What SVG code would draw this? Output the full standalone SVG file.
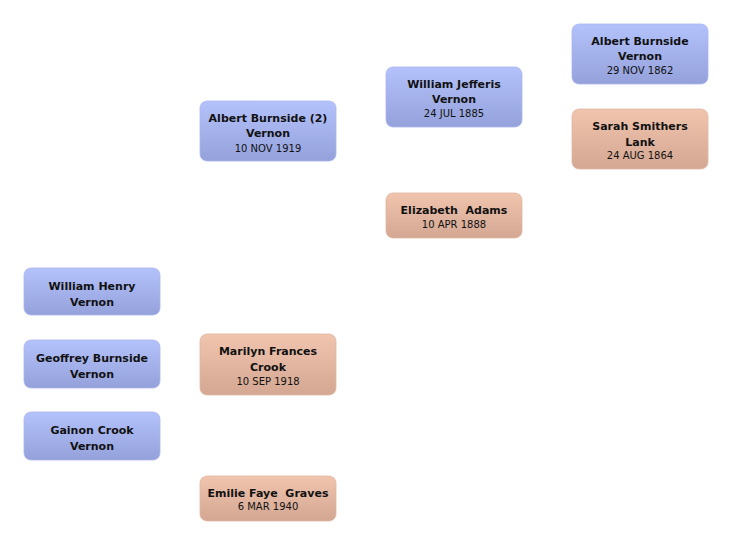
<svg xmlns="http://www.w3.org/2000/svg" width="732" height="545" viewBox="0 0 732 545">
<defs>
<linearGradient id="gb" x1="0" y1="0" x2="0" y2="1">
<stop offset="0" stop-color="#b4c2fc"/>
<stop offset="1" stop-color="#94a1da"/>
</linearGradient>
<linearGradient id="gp" x1="0" y1="0" x2="0" y2="1">
<stop offset="0" stop-color="#f1c4ae"/>
<stop offset="1" stop-color="#d3a792"/>
</linearGradient>
</defs>
<style>
.m rect{fill:url(#gb);stroke:#a9b5ee;stroke-width:0.8}
.f rect{fill:url(#gp);stroke:#e0b6a2;stroke-width:0.8}
text{font-family:"DejaVu Sans",Verdana,sans-serif;fill:#111;text-anchor:middle}
.n{font-size:11px;font-weight:bold}
.d{font-size:10px}
</style>
<rect width="732" height="545" fill="#fff"/>
<g id="connectors"></g>
<g id="albert-burnside-vernon" class="m">
<rect x="572" y="24" width="136" height="60" rx="7"/>
<text class="n" x="640" y="45">Albert Burnside</text>
<text class="n" x="640" y="60">Vernon</text>
<text class="d" x="640" y="74">29 NOV 1862</text>
</g>
<g id="sarah-smithers-lank" class="f">
<rect x="572" y="109" width="136" height="60" rx="7"/>
<text class="n" x="640" y="130">Sarah Smithers</text>
<text class="n" x="640" y="145.5">Lank</text>
<text class="d" x="640" y="159">24 AUG 1864</text>
</g>
<g id="william-jefferis-vernon" class="m">
<rect x="386" y="67" width="136" height="60" rx="7"/>
<text class="n" x="454" y="88">William Jefferis</text>
<text class="n" x="454" y="103">Vernon</text>
<text class="d" x="454" y="117">24 JUL 1885</text>
</g>
<g id="elizabeth-adams" class="f">
<rect x="386" y="193" width="136" height="45" rx="7"/>
<text class="n" x="454" y="213.5" xml:space="preserve">Elizabeth  Adams</text>
<text class="d" x="454" y="228">10 APR 1888</text>
</g>
<g id="albert-burnside-2-vernon" class="m">
<rect x="200" y="101" width="136" height="60" rx="7"/>
<text class="n" x="268" y="122">Albert Burnside (2)</text>
<text class="n" x="268" y="137">Vernon</text>
<text class="d" x="268" y="151.5">10 NOV 1919</text>
</g>
<g id="marilyn-frances-crook" class="f">
<rect x="200" y="334" width="136" height="61" rx="7"/>
<text class="n" x="268" y="355">Marilyn Frances</text>
<text class="n" x="268" y="370.5">Crook</text>
<text class="d" x="268" y="384.5">10 SEP 1918</text>
</g>
<g id="emilie-faye-graves" class="f">
<rect x="200" y="476" width="136" height="45" rx="7"/>
<text class="n" x="268" y="497" xml:space="preserve">Emilie Faye  Graves</text>
<text class="d" x="268" y="510">6 MAR 1940</text>
</g>
<g id="william-henry-vernon" class="m">
<rect x="24" y="268" width="136" height="47" rx="7"/>
<text class="n" x="92" y="290">William Henry</text>
<text class="n" x="92" y="306">Vernon</text>
</g>
<g id="geoffrey-burnside-vernon" class="m">
<rect x="24" y="340" width="136" height="48" rx="7"/>
<text class="n" x="92" y="362">Geoffrey Burnside</text>
<text class="n" x="92" y="378">Vernon</text>
</g>
<g id="gainon-crook-vernon" class="m">
<rect x="24" y="412" width="136" height="48" rx="7"/>
<text class="n" x="92" y="434">Gainon Crook</text>
<text class="n" x="92" y="450">Vernon</text>
</g>
</svg>
